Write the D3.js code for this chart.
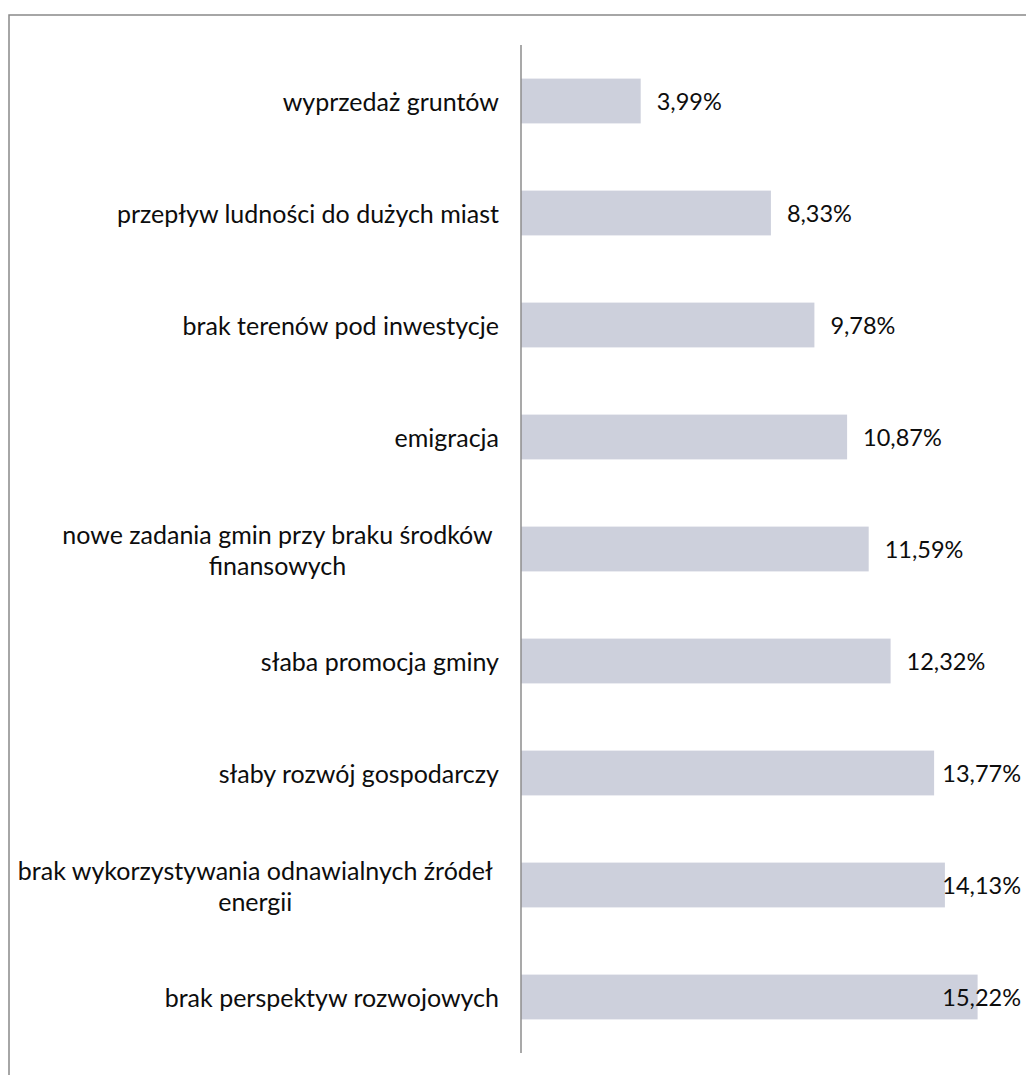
<!DOCTYPE html>
<html>
<head>
<meta charset="utf-8">
<script src="https://cdn.jsdelivr.net/npm/d3@7"></script>
<style>
  html, body { margin: 0; padding: 0; background: #fff; }
  svg { display: block; }
  text { font-family: Lato, "Open Sans", sans-serif; fill: #0d0d0d; }
</style>
</head>
<body>
<svg id="chart" width="1026" height="1075"></svg>
<script>
const categories = [
  ["wyprzedaż gruntów"],
  ["przepływ ludności do dużych miast"],
  ["brak terenów pod inwestycje"],
  ["emigracja"],
  ["nowe zadania gmin przy braku środków", "finansowych"],
  ["słaba promocja gminy"],
  ["słaby rozwój gospodarczy"],
  ["brak wykorzystywania odnawialnych źródeł", "energii"],
  ["brak perspektyw rozwojowych"]
];
const values = [3.99, 8.33, 9.78, 10.87, 11.59, 12.32, 13.77, 14.13, 15.22];
const valueLabels = ["3,99%", "8,33%", "9,78%", "10,87%", "11,59%", "12,32%", "13,77%", "14,13%", "15,22%"];

const W = 1026, H = 1075;
const svg = d3.select("#chart");
const catFont = 25;
const valFont = 23.5;

// outer frame (extends past the picture on right/bottom)
svg.append("rect")
  .attr("x", 9).attr("y", 15)
  .attr("width", 1200).attr("height", 1200)
  .attr("fill", "none").attr("stroke", "#898989").attr("stroke-width", 1.5);

const x0 = 521, yTop = 45, yBot = 1053, rightLimit = 1021;
const x = d3.scaleLinear().domain([0, 16]).range([x0, x0 + 480]);
const y = d3.scaleBand().domain(d3.range(values.length)).range([yTop, yBot]).paddingInner(0.6).paddingOuter(0.3);

// bars
svg.append("g").selectAll("rect").data(values).join("rect")
  .attr("x", x(0))
  .attr("y", (d, i) => y(i))
  .attr("width", d => x(d) - x(0))
  .attr("height", y.bandwidth())
  .attr("fill", "#cdd0dc");

// axis line
svg.append("line")
  .attr("x1", x0).attr("x2", x0)
  .attr("y1", yTop).attr("y2", yBot)
  .attr("stroke", "#8c8c8c").attr("stroke-width", 1.5);

// category labels
const labelRight = 499;
const lineH = 31;
const catG = svg.append("g");
categories.forEach((lines, i) => {
  const cy = y(i) + y.bandwidth() / 2;
  if (lines.length === 1) {
    catG.append("text")
      .attr("x", labelRight).attr("y", cy)
      .attr("text-anchor", "end").attr("dominant-baseline", "central")
      .attr("font-size", catFont)
      .text(lines[0]);
  } else {
    // measure widest line (with trailing space as in the source)
    const tmp = catG.append("text").attr("font-size", catFont).text(lines[0] + "\u2002");
    const w = tmp.node().getComputedTextLength();
    tmp.remove();
    const cx = labelRight - w / 2;
    lines.forEach((ln, k) => {
      catG.append("text")
        .attr("x", cx)
        .attr("y", cy + (k - (lines.length - 1) / 2) * lineH)
        .attr("text-anchor", "middle").attr("dominant-baseline", "central")
        .attr("font-size", catFont)
        .text(ln);
    });
  }
});

// value labels
const valG = svg.append("g");
values.forEach((v, i) => {
  const t = valG.append("text")
    .attr("y", y(i) + y.bandwidth() / 2)
    .attr("dominant-baseline", "central")
    .attr("font-size", valFont)
    .text(valueLabels[i]);
  const tw = t.node().getComputedTextLength();
  const lx = Math.min(x(v) + 16, rightLimit - tw);
  t.attr("x", lx);
});
</script>
</body>
</html>
